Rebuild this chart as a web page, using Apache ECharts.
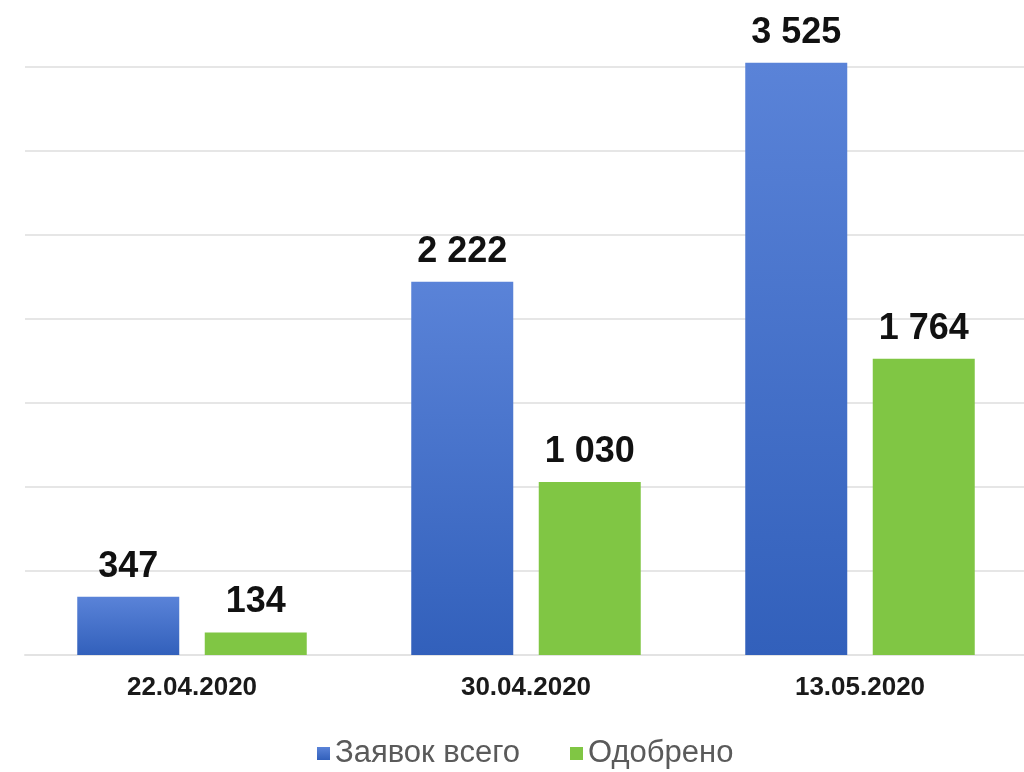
<!DOCTYPE html>
<html>
<head>
<meta charset="utf-8">
<script src="https://cdn.jsdelivr.net/npm/echarts@6/dist/echarts.min.js"></script>
<style>
  html, body { margin: 0; padding: 0; background: #fff; }
  #chart { width: 1024px; height: 772px; }
</style>
</head>
<body>
<div id="chart"></div>
<script>
// данные
const dates = ['22.04.2020', '30.04.2020', '13.05.2020'];
const totalApps = [347, 2222, 3525];
const approved = [134, 1030, 1764];
const seriesNames = ['Заявок всего', 'Одобрено'];

const fmt = function (p) {
  return String(p.value).replace(/\B(?=(\d{3})+(?!\d))/g, ' ');
};

const labelStyle = {
  show: true,
  position: 'top',
  distance: 12,
  color: '#111',
  fontSize: 36,
  fontWeight: 'bold',
  fontFamily: 'Liberation Sans, Arial, sans-serif',
  formatter: fmt
};

const chart = echarts.init(document.getElementById('chart'));
chart.setOption({
  animation: false,
  backgroundColor: '#fff',
  grid: { left: 25, right: -3, top: -17, bottom: 117, containLabel: false, outerBoundsMode: 'none' },
  legend: {
    top: 733,
    left: 312,
    itemWidth: 13,
    itemHeight: 13,
    itemGap: 50,
    icon: 'rect',
    textStyle: { color: '#5a5a5a', fontSize: 31, fontFamily: 'Liberation Sans, Arial, sans-serif' },
    data: seriesNames
  },
  xAxis: {
    type: 'category',
    data: dates,
    axisTick: { show: false },
    axisLine: { show: true, lineStyle: { color: '#e3e3e3', width: 2 } },
    axisLabel: {
      color: '#1a1a1a',
      fontSize: 26,
      fontWeight: 'bold',
      margin: 20,
      fontFamily: 'Liberation Sans, Arial, sans-serif'
    }
  },
  yAxis: {
    type: 'value',
    min: 0,
    max: 4000,
    interval: 500,
    axisLabel: { show: false },
    axisLine: { show: false },
    axisTick: { show: false },
    splitLine: { lineStyle: { color: '#e6e6e6', width: 2 } }
  },
  series: [
    {
      name: seriesNames[0],
      type: 'bar',
      data: totalApps,
      barWidth: 102,
      barGap: '25%',
      itemStyle: {
        color: new echarts.graphic.LinearGradient(0, 0, 0, 1, [
          { offset: 0, color: '#5a83d8' },
          { offset: 1, color: '#3260bb' }
        ])
      },
      label: labelStyle
    },
    {
      name: seriesNames[1],
      type: 'bar',
      data: approved,
      barWidth: 102,
      itemStyle: { color: '#80c644' },
      label: labelStyle
    }
  ]
});
</script>
</body>
</html>
